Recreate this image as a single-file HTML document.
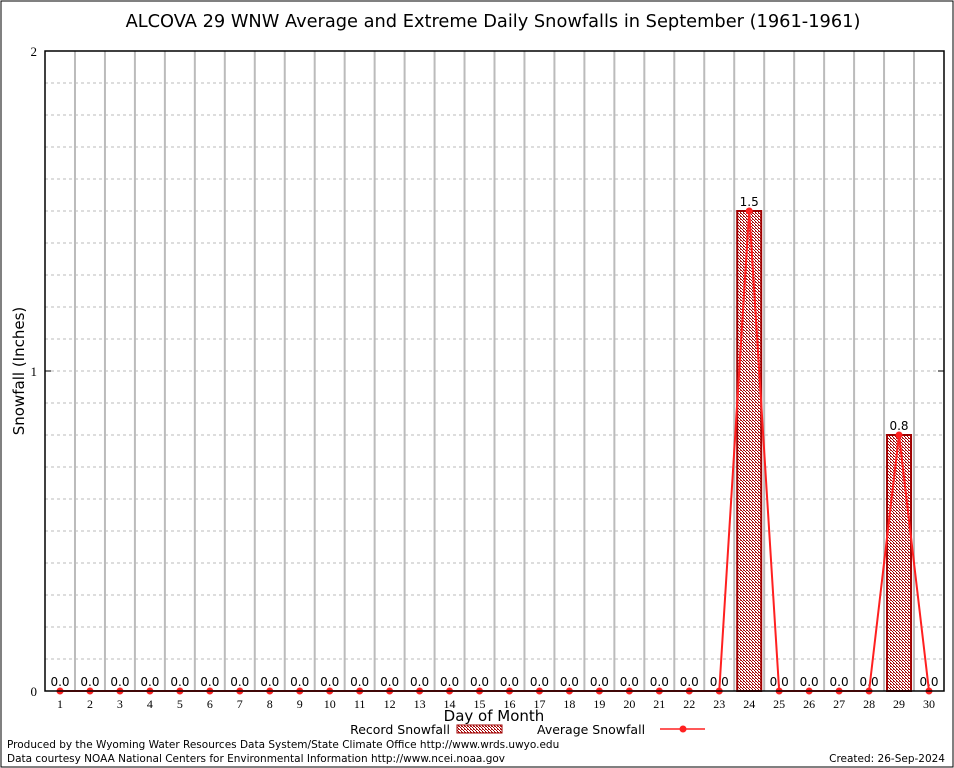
<!DOCTYPE html>
<html><head><meta charset="utf-8"><style>
body{margin:0;background:#fff}
svg{display:block;font-family:"DejaVu Sans","Liberation Sans",sans-serif}
</style></head><body>
<svg id="c" width="954" height="768">
<defs>
<pattern id="chk" width="3" height="3" patternUnits="userSpaceOnUse">
<rect width="3" height="3" fill="#fff"/><rect width="1" height="1" fill="#a00000"/><rect x="1" y="1" width="1" height="1" fill="#a00000"/><rect x="2" y="2" width="1" height="1" fill="#a00000"/><rect x="2" y="0" width="1" height="1" fill="#c04040"/>
</pattern>
</defs>
<rect x="1" y="1" width="952" height="766" fill="#fff" stroke="#000" stroke-width="1"/>
<text x="493" y="27" font-size="17.8" text-anchor="middle">ALCOVA 29 WNW Average and Extreme Daily Snowfalls in September (1961-1961)</text>
<g id="grid"></g>
<g id="marks"></g>
<rect x="45" y="51" width="899" height="640" fill="none" stroke="#000" stroke-width="1.5"/>
<text transform="translate(24,371) rotate(-90)" font-size="15" text-anchor="middle">Snowfall (Inches)</text>
<text x="494" y="721" font-size="15" text-anchor="middle">Day of Month</text>
<text x="450" y="734" font-size="12.5" text-anchor="end">Record Snowfall</text>
<rect x="457" y="725" width="45" height="8" fill="url(#chk)" stroke="#a00000"/>
<text x="537" y="734" font-size="12.5">Average Snowfall</text>
<line x1="660" y1="729" x2="705" y2="729" stroke="#ff2020" stroke-width="1.5"/>
<circle cx="683" cy="729" r="3.5" fill="#ff2020"/>
<text x="7" y="748" font-size="10.5">Produced by the Wyoming Water Resources Data System/State Climate Office http://www.wrds.uwyo.edu</text>
<text x="7" y="762" font-size="10.5">Data courtesy NOAA National Centers for Environmental Information http://www.ncei.noaa.gov</text>
<text x="945" y="762" font-size="10.5" text-anchor="end">Created:  26-Sep-2024</text>
</svg>
<script>
const days=[1,2,3,4,5,6,7,8,9,10,11,12,13,14,15,16,17,18,19,20,21,22,23,24,25,26,27,28,29,30];
const recordSnow=[0,0,0,0,0,0,0,0,0,0,0,0,0,0,0,0,0,0,0,0,0,0,0,1.5,0,0,0,0,0.8,0];
const avgSnow=[0,0,0,0,0,0,0,0,0,0,0,0,0,0,0,0,0,0,0,0,0,0,0,1.5,0,0,0,0,0.8,0];
const yTicks=[0,1,2];
const NS="http://www.w3.org/2000/svg";
const X=d=>60+(d-1)*(869/29);
const Y=v=>691-v*320;
function mk(t,a,p){const e=document.createElementNS(NS,t);for(const k in a)e.setAttribute(k,a[k]);p.appendChild(e);return e;}
const grid=document.getElementById('grid'),marks=document.getElementById('marks');
for(let v=0.1;v<2;v+=0.1){
 const l=mk('line',{x1:45,x2:944,y1:Y(v),y2:Y(v),stroke:'#bbb','stroke-dasharray':'3,3'},grid);
 
 
}
for(let i=0;i<days.length-1;i++){
 const x=(X(days[i])+X(days[i+1]))/2;
 const l=mk('line',{x1:x,x2:x,y1:51,y2:691,stroke:'#bbb','stroke-width':2},grid);
 
 
}
yTicks.forEach(t=>{
 const l=mk('line',{x1:45,x2:51,y1:Y(t),y2:Y(t),stroke:'#000'},grid);
 
 
 const r=mk('line',{x1:938,x2:944,y1:Y(t),y2:Y(t),stroke:'#000'},grid);
 
 
 const tx=mk('text',{x:37,y:Y(t)+5,'font-size':13,'text-anchor':'end','font-family':'Liberation Serif,serif'},grid);
 tx.textContent=t;
 
 
});
days.forEach((d,i)=>{
 const tx=mk('text',{x:X(d),y:708,'font-size':12,'text-anchor':'middle','font-family':'Liberation Serif,serif'},grid);
 tx.textContent=d;
 
 
 const v=recordSnow[i];
 if(v>0){
  const b=mk('rect',{x:X(d)-12,y:Y(v),width:24,height:Y(0)-Y(v),fill:'url(#chk)',stroke:'#a00000','stroke-width':2},marks);
  
  
 }
 const lb=mk('text',{x:X(d),y:Y(v)-5,'font-size':12,'text-anchor':'middle'},marks);
 lb.textContent=v.toFixed(1);
 
 
});
const pl=mk('polyline',{points:days.map((d,i)=>X(d)+','+Y(avgSnow[i])).join(' '),fill:'none',stroke:'#ff2020','stroke-width':2},marks);


days.forEach((d,i)=>{
 const c=mk('circle',{cx:X(d),cy:Y(avgSnow[i]),r:3.5,fill:'#ff2020'},marks);
 
 
});
</script>
</body></html>
